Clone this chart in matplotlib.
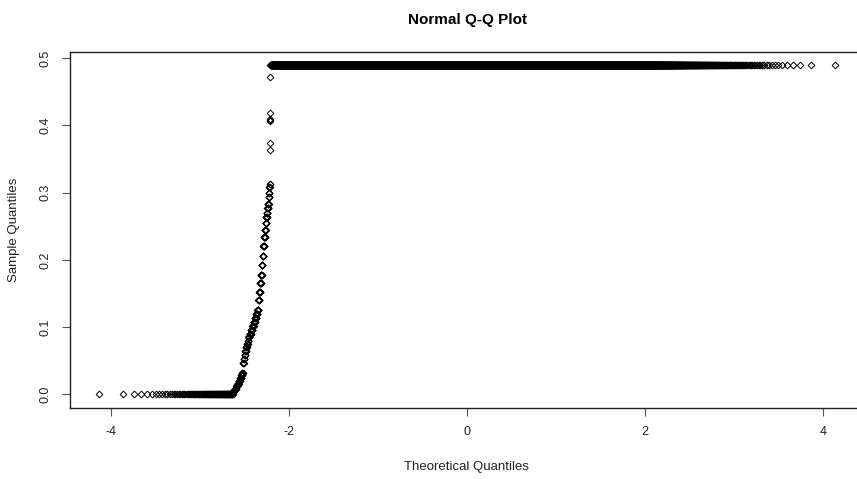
import numpy as np
import matplotlib
matplotlib.use("Agg")
import matplotlib.pyplot as plt
from statistics import NormalDist

plt.rcParams['font.family'] = ['Liberation Sans', 'DejaVu Sans']

# Sample size (read from the extreme theoretical quantiles, about +/-4.13)
n_total = 27600

# Sample values, grouped as distinct value -> number of observations
n_zero = 118
rise_values = [0.005, 0.008, 0.012, 0.016, 0.020, 0.024, 0.028, 0.031,
               0.046, 0.052, 0.058, 0.064, 0.070, 0.075, 0.080,
               0.085, 0.090, 0.096, 0.102, 0.108, 0.114, 0.119, 0.125,
               0.140, 0.152, 0.165, 0.178, 0.192, 0.205, 0.220, 0.234,
               0.245, 0.255, 0.263, 0.270, 0.277, 0.283, 0.293, 0.300, 0.308, 0.313,
               0.363, 0.374, 0.406, 0.408, 0.410, 0.418, 0.472]
rise_counts = [6, 6, 6, 6, 6, 6, 5, 4,
               4, 4, 4, 5, 5, 4, 4,
               8, 9, 9, 9, 9, 9, 9, 8,
               7, 7, 7, 7, 7, 7, 7, 8,
               6, 6, 6, 6, 6, 6, 4, 3, 3, 2,
               1, 1, 1, 1, 1, 1, 1]
top_value = 0.49
n_top = n_total - n_zero - sum(rise_counts)

x_ticks = [-4, -2, 0, 2, 4]
y_ticks = [0.0, 0.1, 0.2, 0.3, 0.4, 0.5]


def build_sample():
    """Expand the grouped values into the sorted sample."""
    parts = [np.zeros(n_zero), np.repeat(rise_values, rise_counts),
             np.full(n_top, top_value)]
    return np.sort(np.concatenate(parts))


def theoretical_quantiles(n):
    """Normal quantiles at R's ppoints(n) positions."""
    a = 3 / 8 if n <= 10 else 0.5
    p = (np.arange(1, n + 1) - a) / (n + 1 - 2 * a)
    inv = NormalDist().inv_cdf
    return np.array([inv(v) for v in p])


sample = build_sample()
theo = theoretical_quantiles(len(sample))

fig = plt.figure(figsize=(8.57, 4.79), dpi=100)
ax = fig.add_axes([70 / 857, 71.5 / 479, 794 / 857, 355.8 / 479])

ax.plot(theo, sample, linestyle='none', marker='D', markersize=3.4,
        markerfacecolor='none', markeredgecolor='black', markeredgewidth=0.7)
ax.margins(x=0.04, y=0.04)

ax.set_xticks(x_ticks)
ax.set_xticklabels([f"{t:g}" for t in x_ticks])
ax.set_yticks(y_ticks)
ax.set_yticklabels([f"{t:.1f}" for t in y_ticks], rotation=90, va='center')
ax.tick_params(axis='both', direction='out', length=6, width=0.8,
               color='#555555', labelsize=9, labelcolor='#222222', pad=7)

for sp in ax.spines.values():
    sp.set_linewidth(1.0)
    sp.set_color('#222222')
# the plot box runs past the right edge of the image
ax.spines['right'].set_visible(False)

ax.set_title("Normal Q-Q Plot", fontsize=11, fontweight='bold', pad=20)
ax.set_xlabel("Theoretical Quantiles", fontsize=9.5, color='#222222')
ax.set_ylabel("Sample Quantiles", fontsize=9.5, color='#222222')
ax.xaxis.set_label_coords(0.5, -(467 - 407.5) / 355.8)
ax.xaxis.label.set_verticalalignment('center')
ax.yaxis.set_label_coords((14 - 70) / 794, 0.5)
ax.yaxis.label.set_verticalalignment('center')

fig.savefig("out.png", dpi=100)
plt.close(fig)
